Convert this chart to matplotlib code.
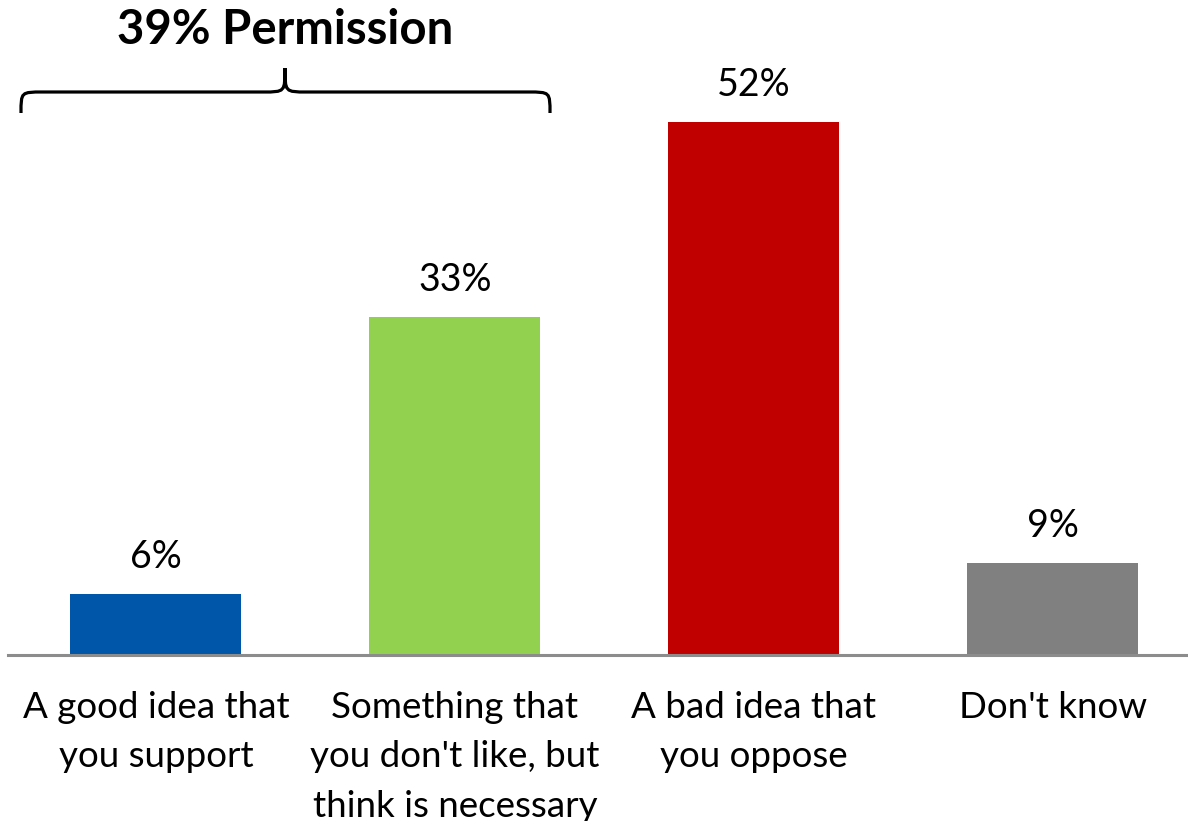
import matplotlib
matplotlib.use("Agg")
import matplotlib.pyplot as plt
from matplotlib.path import Path
from matplotlib.patches import PathPatch

# Dados do gráfico
categorias = ["A good idea that\nyou support",
              "Something that\nyou don't like, but\nthink is necessary",
              "A bad idea that\nyou oppose",
              "Don't know"]
valores = [6, 33, 52, 9]
cores = ["#0056A8", "#92D050", "#C00000", "#808080"]
titulo_chave = "39% Permission"

plt.rcParams['font.family'] = ['Lato', 'DejaVu Sans']

W, H = 1188, 821
fig = plt.figure(figsize=(W / 100, H / 100), dpi=100)

# eixo posicionado em pixels (base em y=655 a partir do topo)
ax = fig.add_axes([8 / W, (H - 655) / H, 1 - 8 / W, 655 / H])
x = range(len(valores))
ax.bar(x, valores, width=0.572, color=cores, zorder=2)
ax.set_xlim(-0.495, 3.452)
ax.set_ylim(0, 655 / 10.25)

for xi, v in zip(x, valores):
    ax.annotate(f"{v}%", (xi, v), xytext=(0, 37), textcoords="offset pixels",
                ha="center", va="center", fontsize=27)

for s in ["top", "right", "left"]:
    ax.spines[s].set_visible(False)
ax.spines["bottom"].set_color("#8C8C8C")
ax.spines["bottom"].set_linewidth(2.2)
ax.set_yticks([])
ax.set_xticks(list(x))
ax.set_xticklabels(categorias, fontsize=26.5, linespacing=1.6, va="top")
ax.tick_params(axis="x", length=0, pad=26)

# chave "39% Permission" (coordenadas em pixels a partir do topo)
def px(xp, yp):
    return (xp / W, 1 - yp / H)

x0, x1, xm = 21, 550, 285
yb, yh, yt = 113, 92, 68
r = 22
verts = [px(x0, yb),
         px(x0, yh), px(x0, yh), px(x0 + r, yh),
         px(xm - r, yh),
         px(xm, yh), px(xm, yh), px(xm, yt),
         px(xm, yh), px(xm, yh), px(xm + r, yh),
         px(x1 - r, yh),
         px(x1, yh), px(x1, yh), px(x1, yb)]
codes = [Path.MOVETO,
         Path.CURVE4, Path.CURVE4, Path.CURVE4,
         Path.LINETO,
         Path.CURVE4, Path.CURVE4, Path.CURVE4,
         Path.CURVE4, Path.CURVE4, Path.CURVE4,
         Path.LINETO,
         Path.CURVE4, Path.CURVE4, Path.CURVE4]
fig.patches.append(PathPatch(Path(verts, codes), transform=fig.transFigure,
                             fill=False, lw=2.3, color="black"))

fig.text(*px(285, 30), titulo_chave, ha="center", va="center",
         fontsize=34, fontweight="bold")

fig.savefig("out.png", dpi=100)
